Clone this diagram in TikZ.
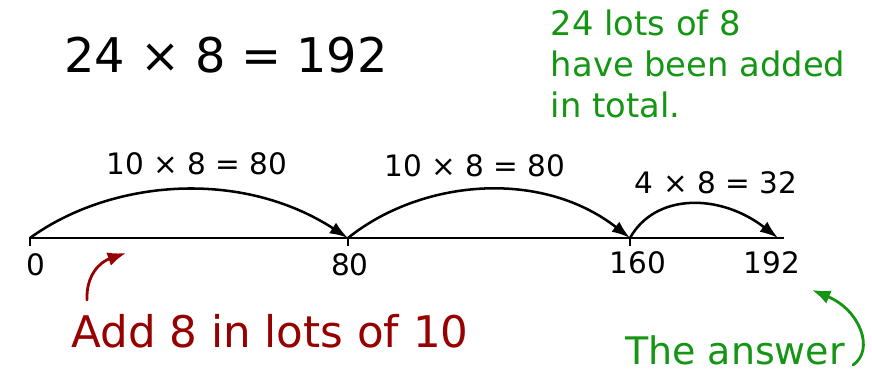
\documentclass[tikz,border=0pt]{standalone}
\usepackage{fontspec}
\setmainfont{DejaVu Sans}
\usepackage{tikz}
\usetikzlibrary{arrows.meta,positioning}
\definecolor{noteGreen}{RGB}{20,150,20}
\definecolor{noteRed}{RGB}{150,0,0}

\begin{document}
\begin{tikzpicture}[
  x=0.025cm, y=-0.025cm,
  numlabel/.style={font=\fontsize{21}{23}\selectfont, anchor=north},
  jumplabel/.style={font=\fontsize{21}{23}\selectfont},
  jump/.style={-{Latex[length=13pt,width=9pt]}, line width=1.8pt, line cap=round},
  pointer/.style={-{Latex[length=13pt,width=10pt]}, line width=2pt, line cap=round},
  greennote/.style={text=noteGreen, font=\fontsize{24}{29}\selectfont, align=left, anchor=north west}
]
\useasboundingbox (0,0) rectangle (872,373);
% number line
\coordinate (p0) at (30,238);
\coordinate (p80) at (348,238);
\coordinate (p160) at (630,238);
\coordinate (p192) at (778,238);
\coordinate (lineend) at (784,238);
\draw[line width=1.8pt] (p0) -- (lineend);
\draw[line width=1.8pt] (p0) -- ++(0,8);
\draw[line width=1.8pt] (p80) -- ++(0,8);
\draw[line width=1.8pt] (p160) -- ++(0,8);
\node[numlabel] (l0) at (36,249) {0};
\node[numlabel] (l80) at (350,249) {80};
\node[numlabel] (l160) at (638,247) {160};
\node[numlabel] (l192) at (772,247) {192};
% jumps
\draw[jump] (p0) .. controls (110,180) and (240,168) .. (p80);
\draw[jump] (p80) .. controls (420,180) and (540,168) .. (p160);
\draw[jump] (p160) .. controls (655,193) and (720,193) .. (p192);
\node[jumplabel] (j1) at (197,164) {10 × 8 = 80};
\node[jumplabel] (j2) at (475,166) {10 × 8 = 80};
\node[jumplabel] (j3) at (716,183) {4 × 8 = 32};
% sum
\node[font=\fontsize{34}{36}\selectfont] (sum) at (226,55) {24 × 8 = 192};
% notes
\node[greennote] (total) at (546,5) {24 lots of 8\\have been added\\in total.};
\node[text=noteRed, font=\fontsize{31}{34}\selectfont] (lots) at (270,331) {Add 8 in lots of 10};
\coordinate (redtail) at (87,300);
\coordinate (redhead) at (126,253);
\draw[pointer, draw=noteRed] (redtail) .. controls (86,275) and (100,262) .. (redhead);
\node[text=noteGreen, font=\fontsize{27}{30}\selectfont] (answer) at (735,350) {The answer};
\coordinate (greentail) at (853,365);
\coordinate (greenhead) at (812,290);
\draw[pointer, draw=noteGreen] (greentail) .. controls (875,350) and (860,310) .. (greenhead);
\end{tikzpicture}
\end{document}
